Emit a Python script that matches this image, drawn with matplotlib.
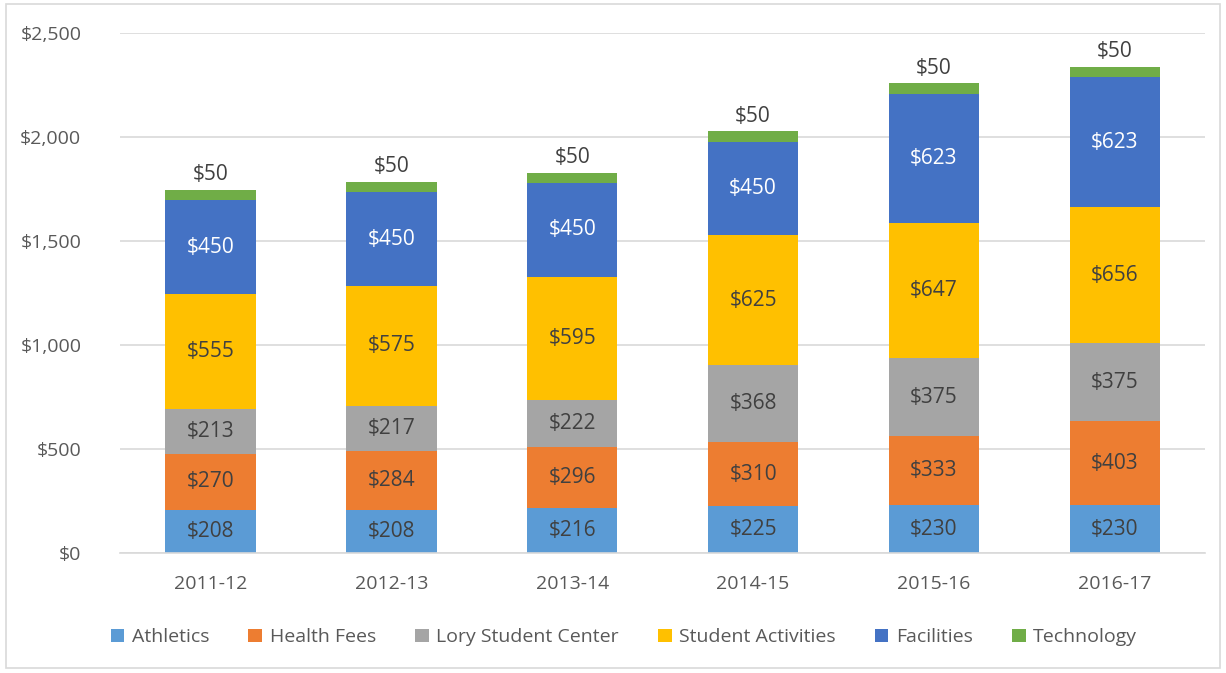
import numpy as np
import matplotlib.pyplot as plt
from matplotlib.patches import Rectangle

years = ['2011-12', '2012-13', '2013-14', '2014-15', '2015-16', '2016-17']
athletics = [208, 208, 216, 225, 230, 230]
health_fees = [270, 284, 296, 310, 333, 403]
lory = [213, 217, 222, 368, 375, 375]
student_act = [555, 575, 595, 625, 647, 656]
facilities = [450, 450, 450, 450, 623, 623]
technology = [50, 50, 50, 50, 50, 50]

series = [
    ('Athletics', athletics, '#5B9BD5', '#404040'),
    ('Health Fees', health_fees, '#ED7D31', '#404040'),
    ('Lory Student Center', lory, '#A5A5A5', '#404040'),
    ('Student Activities', student_act, '#FFC000', '#404040'),
    ('Facilities', facilities, '#4472C4', 'white'),
    ('Technology', technology, '#70AD47', '#404040'),
]

plt.rcParams['font.family'] = ['Open Sans', 'DejaVu Sans']

fig = plt.figure(figsize=(12.26, 6.73), dpi=100)
ax = fig.add_axes([0.098, 0.178, 0.885, 0.773])

x = np.arange(len(years))
bottom = np.zeros(len(years))
for name, vals, color, tcol in series:
    vals = np.array(vals, dtype=float)
    ax.bar(x, vals, 0.5, bottom=bottom, color=color, label=name, zorder=2)
    for xi, b, v in zip(x, bottom, vals):
        if name == 'Technology':
            ax.text(xi, b + v + 22, f'${v:,.0f}', ha='center', va='bottom',
                    fontsize=15, color=tcol)
        else:
            ax.text(xi, b + v / 2, f'${v:,.0f}', ha='center', va='center',
                    fontsize=15, color=tcol)
    bottom += vals

ax.set_xlim(-0.5, 5.5)
ax.set_ylim(0, 2500)
ax.set_yticks(np.arange(0, 2501, 500))
ax.set_yticklabels([f'${v:,}' for v in range(0, 2501, 500)])
ax.set_xticks(x)
ax.set_xticklabels(years)
ax.tick_params(axis='both', length=0, labelsize=14, colors='#595959')
ax.tick_params(axis='y', pad=28)
ax.tick_params(axis='x', pad=16)
ax.grid(axis='y', color='#D9D9D9', linewidth=1.2, zorder=0)
for s in ['top', 'right', 'left']:
    ax.spines[s].set_visible(False)
ax.spines['bottom'].set_color('#D9D9D9')
ax.spines['bottom'].set_linewidth(1.2)

leg = fig.legend(loc='center', bbox_to_anchor=(0.509, 0.053), ncol=6, frameon=False,
                 fontsize=14, handlelength=0.7, handleheight=0.7, handletextpad=0.4,
                 columnspacing=2.0)
for t in leg.get_texts():
    t.set_color('#595959')

fig.patches.append(Rectangle((0.005, 0.007), 0.99, 0.987, transform=fig.transFigure,
                             fill=False, edgecolor='#D9D9D9', linewidth=1.2))

fig.savefig('out.png', dpi=100, facecolor='white')
